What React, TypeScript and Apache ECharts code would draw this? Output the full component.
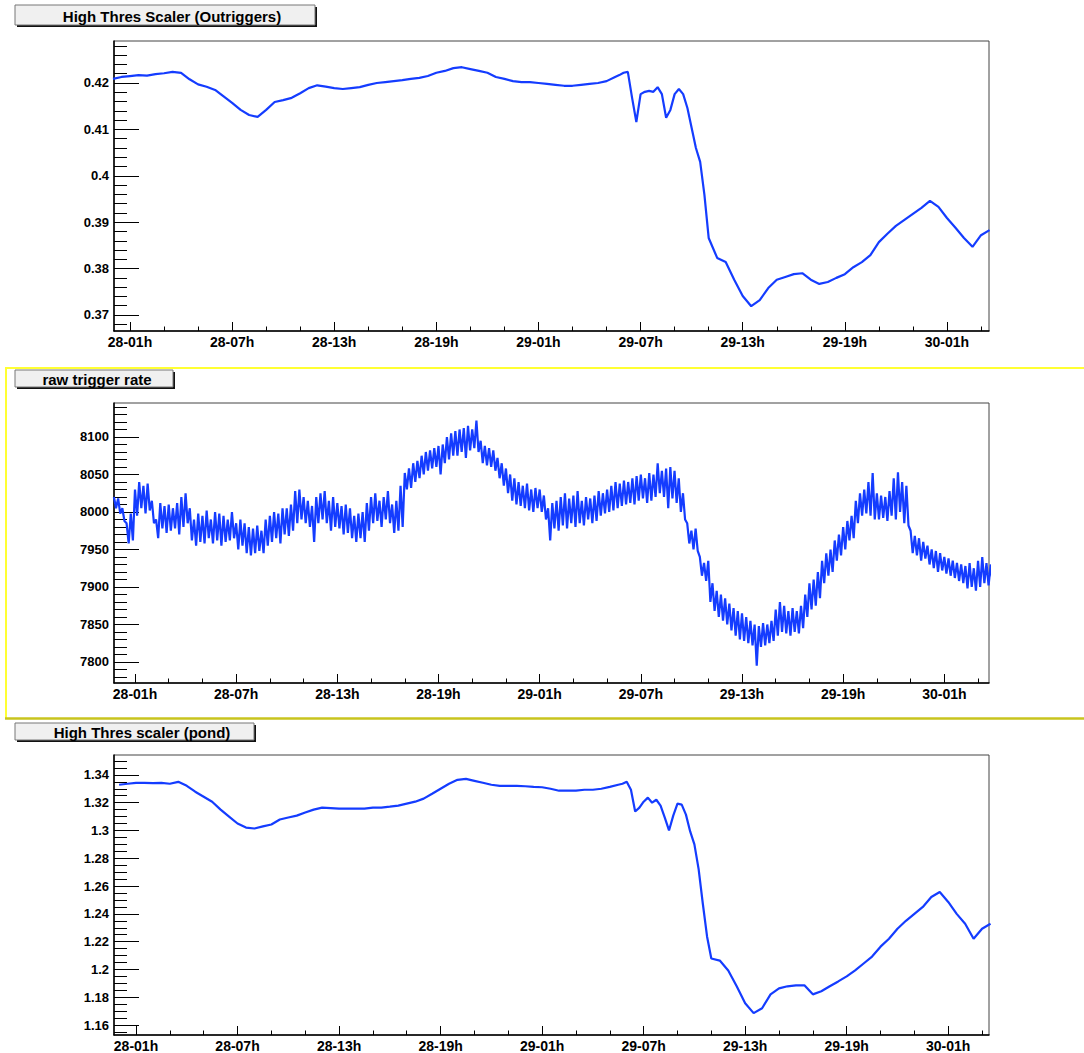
import React, { useEffect, useRef } from "react";
import * as echarts from "echarts";

// ---- data (hours counted from day 28, 00h) ----
const hoursSmooth = [
  0, 0.5, 1, 1.5, 2, 2.5, 3, 3.5, 4, 4.5, 5, 5.5, 6, 6.5, 7, 7.5, 8, 8.5, 9, 9.5,
  10, 10.5, 11, 11.5, 12, 12.5, 13, 13.5, 14, 14.5, 15, 15.5, 16, 16.5, 17, 17.5, 18, 18.5, 19, 19.5,
  20, 20.5, 21, 21.5, 22, 22.5, 23, 23.5, 24, 24.5, 25, 25.5, 26, 26.5, 27, 27.5, 28, 28.5, 29, 29.5,
  29.75, 30, 30.25, 30.5, 30.75, 31, 31.25, 31.5, 31.75, 32, 32.25, 32.5, 32.75, 33, 33.25, 33.5, 33.75, 34, 34.25, 34.5, 34.75, 35,
  35.5, 36, 36.5, 37, 37.5, 38, 38.5, 39, 39.5, 40, 40.5, 41, 41.5, 42, 42.5, 43, 43.5, 44, 44.5, 45,
  45.5, 46, 46.5, 47, 47.5, 48, 48.5, 49, 49.5, 50, 50.5, 51, 51.5,
];

const outriggerScaler = [
  0.4209, 0.4213, 0.4215, 0.4217, 0.4216, 0.4219, 0.4221, 0.4224, 0.4222, 0.4208, 0.4197, 0.4192, 0.4185, 0.4171, 0.4157, 0.4142, 0.4131, 0.4127, 0.4142, 0.4159,
  0.4163, 0.4168, 0.4178, 0.4189, 0.4195, 0.4192, 0.4189, 0.4187, 0.4189, 0.4191, 0.4196, 0.42, 0.4202, 0.4204, 0.4206, 0.4209, 0.4211, 0.4215, 0.4222, 0.4226,
  0.4232, 0.4234, 0.423, 0.4226, 0.4222, 0.4213, 0.4209, 0.4204, 0.4202, 0.4202, 0.42, 0.4198, 0.4196, 0.4194, 0.4194, 0.4196, 0.4198, 0.42, 0.4204, 0.4213,
  0.4217, 0.4222, 0.4224, 0.4168, 0.4116, 0.4176, 0.4181, 0.4183, 0.4181, 0.4191, 0.4176, 0.4125, 0.4142, 0.4176, 0.4187, 0.4176, 0.4146, 0.4103, 0.406, 0.403, 0.3959, 0.3866,
  0.3823, 0.3814, 0.3776, 0.3741, 0.3719, 0.3732, 0.3758, 0.3776, 0.3782, 0.3788, 0.379, 0.3776, 0.3767, 0.3771, 0.378, 0.3788, 0.3803, 0.3814, 0.3829, 0.3857,
  0.3875, 0.3892, 0.3905, 0.3918, 0.3931, 0.3946, 0.3933, 0.3909, 0.3888, 0.3866, 0.3847, 0.3872, 0.3883,
];

const pondScaler = [
  1.3329, 1.3336, 1.3343, 1.3343, 1.334, 1.3343, 1.3336, 1.335, 1.3321, 1.3279, 1.3243, 1.3207, 1.315, 1.31, 1.305, 1.3021, 1.3014, 1.3029, 1.3043, 1.3079,
  1.3093, 1.3107, 1.3129, 1.315, 1.3164, 1.3161, 1.3157, 1.3157, 1.3157, 1.3157, 1.3164, 1.3164, 1.3171, 1.3179, 1.3193, 1.3207, 1.3229, 1.3264, 1.33, 1.3336,
  1.3364, 1.3371, 1.3357, 1.3343, 1.3329, 1.3321, 1.3321, 1.3321, 1.3318, 1.3314, 1.3311, 1.33, 1.3286, 1.3286, 1.3286, 1.3293, 1.3293, 1.33, 1.3314, 1.3329,
  1.3336, 1.335, 1.3293, 1.3136, 1.3164, 1.3207, 1.3236, 1.32, 1.3221, 1.3179, 1.3093, 1.3, 1.3107, 1.3193, 1.3186, 1.3114, 1.2993, 1.29, 1.2722, 1.2471, 1.2236, 1.2079,
  1.2064, 1.1993, 1.1879, 1.1757, 1.1686, 1.1721, 1.1821, 1.1864, 1.1879, 1.1886, 1.1886, 1.1821, 1.1843, 1.1879, 1.1914, 1.195, 1.1993, 1.2043, 1.2093, 1.2164,
  1.2221, 1.2293, 1.235, 1.24, 1.245, 1.2521, 1.2557, 1.2486, 1.24, 1.2329, 1.2221, 1.2293, 1.2329,
];

// raw trigger rate: max and min within each 15-minute bin, starting 27-23:45h
const rateStartHour = -0.25;
const rateStepHours = 0.25;
const rateHigh = [
  8020,
  8018, 8005, 7985, 7998,   8030, 8040, 8035, 8038,   8015, 7990, 8012, 8008,   8010, 8005, 8012, 8020,
  8025, 8005, 7990, 7998,   7995, 8002, 7990, 8000,   7998, 7995, 7990, 8000,   7985, 7990, 7985, 7980,
  7978, 7982, 7975, 7990,   7995, 8000, 7998, 8005,   8005, 8010, 8028, 8030,   8020, 8015, 8008, 8020,
  8025, 8028, 8015, 8020,   8012, 8008, 8010, 8005,   7995, 7998, 8000, 8012,   8020, 8025, 8015, 8020,
  8028, 8010, 8015, 8035,   8052, 8058, 8065, 8068,   8075, 8080, 8082, 8085,   8088, 8090, 8100, 8105,
  8108, 8110, 8112, 8115,   8110, 8122, 8095, 8088,   8085, 8082, 8072, 8065,   8058, 8050, 8045, 8040,
  8035, 8038, 8030, 8032,   8030, 8022, 8005, 8012,   8015, 8020, 8025, 8018,   8022, 8028, 8015, 8020,
  8018, 8022, 8028, 8025,   8030, 8035, 8040, 8038,   8042, 8040, 8045, 8048,   8050, 8045, 8052, 8050,
  8065, 8055, 8058, 8060,   8055, 8045, 8025, 7985,   7975, 7978, 7940, 7932,   7935, 7905, 7895, 7890,
  7885, 7878, 7872, 7868,   7865, 7860, 7855, 7850,   7848, 7852, 7850, 7855,   7870, 7880, 7875, 7868,
  7872, 7868, 7875, 7890,   7905, 7910, 7920, 7935,   7945, 7950, 7962, 7970,   7980, 7988, 7995, 8015,
  8025, 8030, 8040, 8052,   8025, 8022, 8020, 8028,   8045, 8053, 8040, 8035,   7975, 7968, 7965, 7960,
  7955, 7950, 7948, 7945,   7940, 7938, 7935, 7932,   7930, 7928, 7932, 7925,   7935, 7940, 7932, 7930,
];
const rateLow = [
  8005,
  7998, 7988, 7958, 7962,   7995, 8005, 7998, 8002,   7985, 7965, 7978, 7972,   7975, 7978, 7970, 7980,
  7985, 7962, 7955, 7960,   7958, 7965, 7958, 7962,   7955, 7960, 7962, 7965,   7950, 7955, 7945, 7942,
  7945, 7948, 7945, 7955,   7960, 7965, 7958, 7970,   7968, 7975, 7985, 7990,   7985, 7980, 7960, 7985,
  7990, 7985, 7975, 7980,   7978, 7970, 7972, 7965,   7960, 7965, 7960, 7975,   7985, 7988, 7980, 7990,
  7985, 7972, 7975, 7980,   8030, 8032, 8040, 8045,   8050, 8055, 8058, 8060,   8050, 8065, 8070, 8075,
  8075, 8080, 8072, 8082,   8085, 8080, 8065, 8062,   8060, 8055, 8045, 8035,   8025, 8015, 8010, 8008,
  8005, 8002, 8000, 8005,   8000, 7990, 7962, 7978,   7975, 7982, 7978, 7985,   7980, 7985, 7982, 7990,
  7985, 7988, 7995, 7998,   8000, 8002, 8005, 8008,   8010, 8012, 8010, 8015,   8018, 8012, 8015, 8020,
  8025, 8020, 8005, 8018,   8012, 8000, 7990, 7958,   7950, 7948, 7915, 7908,   7880, 7868, 7860, 7855,
  7850, 7842, 7835, 7830,   7828, 7825, 7822, 7795,   7820, 7822, 7825, 7828,   7835, 7840, 7838, 7835,
  7840, 7838, 7845, 7860,   7870, 7875, 7885, 7905,   7915, 7920, 7935, 7942,   7950, 7962, 7965, 7985,
  7995, 7998, 7995, 7990,   7990, 7992, 7988, 7995,   7990, 8000, 7985, 7982,   7945, 7942, 7935, 7938,
  7930, 7925, 7920, 7922,   7918, 7915, 7912, 7908,   7905, 7898, 7900, 7895,   7900, 7905, 7902, 7905,
];

const xTickHours = [1, 7, 13, 19, 25, 31, 37, 43, 49];
const xTickLabels = ["28-01h", "28-07h", "28-13h", "28-19h", "29-01h", "29-07h", "29-13h", "29-19h", "30-01h"];
const xMinorHours = [3, 5, 9, 11, 15, 17, 21, 23, 27, 29, 33, 35, 39, 41, 45, 47, 51];

const y1Ticks = [0.37, 0.38, 0.39, 0.4, 0.41, 0.42];
const y2Ticks = [7800, 7850, 7900, 7950, 8000, 8050, 8100];
const y3Ticks = [1.16, 1.18, 1.2, 1.22, 1.24, 1.26, 1.28, 1.3, 1.32, 1.34];

const titles = ["High Thres Scaler (Outriggers)", "raw trigger rate", "High Thres scaler (pond)"];

// ---- styling / layout ----
const BLUE = "#143cff";
const FONT = "'Liberation Sans', Arial, Helvetica, sans-serif";

function minorList(start: number, step: number, count: number) {
  const out: number[] = [];
  for (let i = 0; i < count; i++) out.push(Math.round((start + i * step) * 1e6) / 1e6);
  return out;
}

const panels = [
  { top: 41, height: 290, xMin: 0.06, xMax: 51.47, yMin: 0.36655, yMax: 0.42905, major: y1Ticks, minor: minorList(0.368, 0.002, 31) },
  { top: 403, height: 280, xMin: -0.245, xMax: 51.65, yMin: 7772, yMax: 8145.3, major: y2Ticks, minor: minorList(7780, 10, 37) },
  { top: 755, height: 282, xMin: -0.3, xMax: 51.41, yMin: 1.15286, yMax: 1.35429, major: y3Ticks, minor: minorList(1.155, 0.005, 40) },
];

const titleBoxes = [
  { x: 15, y: 5, w: 300, h: 20, tx: 172 },
  { x: 15, y: 370, w: 158, h: 17, tx: 97 },
  { x: 15, y: 723, w: 239, h: 17, tx: 142 },
];

function labelFor(v: number) {
  const i = xTickHours.findIndex((h) => Math.abs(h - v) < 1e-6);
  return i >= 0 ? xTickLabels[i] : "";
}

export default function App() {
  const ref = useRef<HTMLDivElement>(null);
  useEffect(() => {
    document.body.style.margin = "0";
    const chart = echarts.init(ref.current!, undefined, { renderer: "svg" });

    const grids: any[] = [];
    const xAxes: any[] = [];
    const yAxes: any[] = [];
    panels.forEach((p, i) => {
      grids.push({
        left: 114, top: p.top, width: 875, height: p.height,
        show: true, borderColor: "#444", borderWidth: 1, backgroundColor: "transparent",
      });
      xAxes.push({
        type: "value", gridIndex: i, min: p.xMin, max: p.xMax, position: "bottom",
        axisLine: { show: true, onZero: false, lineStyle: { color: "#000", width: 1.5 } },
        axisTick: { show: true, inside: true, length: 9, customValues: xTickHours, lineStyle: { color: "#000", width: 1 } },
        axisLabel: {
          show: true, customValues: xTickHours, formatter: labelFor, margin: 4,
          fontFamily: FONT, fontWeight: "bold", fontSize: 14, color: "#000",
        },
        splitLine: { show: false },
      });
      xAxes.push({
        type: "value", gridIndex: i, min: p.xMin, max: p.xMax, position: "bottom",
        axisLine: { show: false, onZero: false },
        axisTick: { show: true, inside: true, length: 4.5, customValues: xMinorHours, lineStyle: { color: "#000", width: 1 } },
        axisLabel: { show: false },
        splitLine: { show: false },
      });
      yAxes.push({
        type: "value", gridIndex: i, min: p.yMin, max: p.yMax, position: "left",
        axisLine: { show: true, onZero: false, lineStyle: { color: "#000", width: 1.5 } },
        axisTick: { show: true, inside: true, length: 25, customValues: p.major, lineStyle: { color: "#000", width: 1 } },
        axisLabel: {
          show: true, customValues: p.major, margin: 5, formatter: (v: number) => String(v),
          fontFamily: FONT, fontWeight: "bold", fontSize: 13, color: "#000",
        },
        splitLine: { show: false },
      });
      yAxes.push({
        type: "value", gridIndex: i, min: p.yMin, max: p.yMax, position: "left",
        axisLine: { show: false, onZero: false },
        axisTick: { show: true, inside: true, length: 13, customValues: p.minor, lineStyle: { color: "#000", width: 1 } },
        axisLabel: { show: false },
        splitLine: { show: false },
      });
    });

    const lineSeries = (idx: number, data: number[][], width: number) => ({
      type: "line", xAxisIndex: idx * 2, yAxisIndex: idx * 2, data,
      symbol: "none", showSymbol: false, clip: true, silent: true,
      lineStyle: { color: BLUE, width }, itemStyle: { color: BLUE },
    });

    // each 15-min bin contributes its max then its min, so the trace sweeps the band
    const rateTrace: number[][] = [];
    rateHigh.forEach((hi, i) => {
      const t = rateStartHour + i * rateStepHours;
      rateTrace.push([t, hi]);
      rateTrace.push([t + rateStepHours / 2, rateLow[i]]);
    });

    const graphic: any[] = [
      // highlighted (yellow) pad around the middle plot
      { type: "line", shape: { x1: 5, y1: 368, x2: 1084, y2: 368 }, style: { stroke: "#ffff33", lineWidth: 2 } },
      { type: "line", shape: { x1: 6, y1: 368, x2: 6, y2: 718 }, style: { stroke: "#ffff33", lineWidth: 2 } },
      { type: "line", shape: { x1: 5, y1: 718.5, x2: 1084, y2: 718.5 }, style: { stroke: "#c8c41e", lineWidth: 2.5 } },
    ];
    titleBoxes.forEach((b, i) => {
      graphic.push({ type: "rect", shape: { x: b.x + 2, y: b.y + 2, width: b.w, height: b.h }, style: { fill: "#111" } });
      graphic.push({ type: "rect", shape: { x: b.x, y: b.y, width: b.w, height: b.h }, style: { fill: "#f0f0f0", stroke: "#777", lineWidth: 1 } });
      graphic.push({
        type: "text", x: b.tx, y: b.y + b.h / 2 + 1,
        style: { text: titles[i], fill: "#000", font: `bold 15px ${FONT}`, textAlign: "center", textVerticalAlign: "middle" },
      });
    });

    chart.setOption({
      animation: false,
      backgroundColor: "#ffffff",
      grid: grids,
      xAxis: xAxes,
      yAxis: yAxes,
      graphic,
      series: [
        lineSeries(0, hoursSmooth.map((h, i) => [h, outriggerScaler[i]]), 2.2),
        lineSeries(1, rateTrace, 2.2),
        lineSeries(2, hoursSmooth.map((h, i) => [h, pondScaler[i]]), 2.2),
      ],
    });
    return () => chart.dispose();
  }, []);
  return <div ref={ref} style={{ width: 1084, height: 1053 }} />;
}
